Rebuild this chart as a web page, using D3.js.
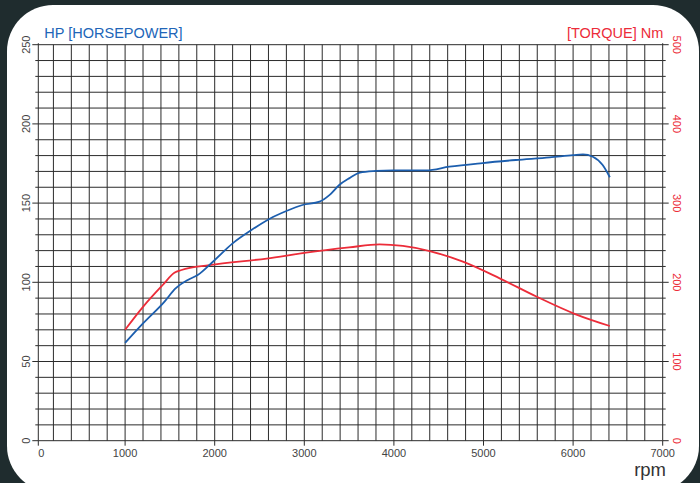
<!DOCTYPE html>
<html><head><meta charset="utf-8">
<script src="https://cdn.jsdelivr.net/npm/d3@7"></script>
<style>html,body{margin:0;padding:0;background:#1f2c2e;}svg{display:block;font-family:"Liberation Sans",Arial,sans-serif;}</style>
</head><body>
<svg id="c" width="700" height="483"></svg>
<script>
// ---- data ----
const hpRpm = [1000,1200,1440,1560,1700,1810,1980,2200,2410,2610,2800,2980,3170,3280,3390,3500,3620,3800,3990,4360,4620,4990,5360,5740,6000,6110,6220,6330,6410];
const hpVals = [61.7,74,87.8,96,101.5,104.6,113,124.6,133,140,145,148.8,150.9,155,161.4,165.6,169.2,170.3,170.7,170.7,173,175.3,177.2,178.9,180.3,180.8,179.3,174,166.3];
const tqRpm = [1000,1200,1420,1550,1630,1940,2580,3020,3500,3840,4100,4400,4770,5180,5590,6030,6410];
const tqVals = [140,169,196.6,212,215.5,221.8,230,237.4,244,248,246,239.5,226,205,182,159.6,144.8];
const xTicks = [0,1000,2000,3000,4000,5000,6000,7000];
const hpTicks = [0,50,100,150,200,250];
const tqTicks = [0,100,200,300,400,500];
const titles = {hp:"HP [HORSEPOWER]", tq:"[TORQUE] Nm", x:"rpm"};

// ---- layout ----
const svg = d3.select("#c");
const BLUE = "#1c5eae", RED = "#ec2c39", GRID = "#2b2b2b", TXT = "#444";
const x = d3.scaleLinear().domain([0,7000]).range([35.5,662.7]);
const yH = d3.scaleLinear().domain([0,250]).range([440.7,44.7]);
const yT = d3.scaleLinear().domain([0,500]).range([440.7,44.7]);
const axisX = 38.3;

// panel
svg.append("rect").attr("x",7).attr("y",5).attr("width",692).attr("height",487).attr("rx",46).attr("fill","#fff");

// grid
const g = svg.append("g").attr("stroke",GRID).attr("stroke-width",1).attr("fill","none");
d3.range(10,251,10).forEach(v=>{
  g.append("line").attr("x1",axisX).attr("x2",x(7000)).attr("y1",yH(v)).attr("y2",yH(v));
});
d3.range(200,7000,200).forEach(v=>{
  g.append("line").attr("x1",x(v)).attr("x2",x(v)).attr("y1",yH(0)).attr("y2",yH(250));
});
// axes lines
g.append("line").attr("x1",axisX).attr("x2",axisX).attr("y1",yH(0)).attr("y2",yH(250)-1.5);
g.append("line").attr("x1",x(7000)).attr("x2",x(7000)).attr("y1",yH(0)).attr("y2",yH(250)-1.5);
g.append("line").attr("x1",axisX).attr("x2",x(7000)).attr("y1",yH(0)).attr("y2",yH(0));
// left ticks
d3.range(0,251,10).forEach(v=>{
  const L = v%50===0 ? 6 : 3;
  g.append("line").attr("x1",axisX-L).attr("x2",axisX).attr("y1",yH(v)).attr("y2",yH(v));
});
// right ticks
d3.range(0,501,20).forEach(v=>{
  const L = v%100===0 ? 6 : 3;
  g.append("line").attr("x1",x(7000)).attr("x2",x(7000)+L).attr("y1",yT(v)).attr("y2",yT(v));
});
// bottom ticks
xTicks.forEach(v=>{
  const xx = v===0 ? axisX : x(v);
  g.append("line").attr("x1",xx).attr("x2",xx).attr("y1",yH(0)).attr("y2",yH(0)+5);
});

// tick labels
xTicks.forEach(v=>{
  svg.append("text").attr("x", v===0 ? axisX : x(v)).attr("y",457)
    .attr("text-anchor", v===0 ? "start" : "middle").attr("font-size",11).attr("fill",TXT).text(v);
});
hpTicks.forEach(v=>{
  svg.append("text").attr("transform",`translate(30,${yH(v)}) rotate(-90)`)
    .attr("text-anchor","middle").attr("font-size",11).attr("fill",TXT).text(v);
});
tqTicks.forEach(v=>{
  svg.append("text").attr("transform",`translate(673,${yT(v)}) rotate(90)`)
    .attr("text-anchor","middle").attr("font-size",11).attr("fill",RED).text(v);
});

// curves
const lineH = d3.line().x((d,i)=>x(hpRpm[i])).y(d=>yH(d)).curve(d3.curveMonotoneX);
const lineT = d3.line().x((d,i)=>x(tqRpm[i])).y(d=>yT(d)).curve(d3.curveMonotoneX);
svg.append("path").attr("d",lineT(tqVals)).attr("fill","none").attr("stroke",RED).attr("stroke-width",1.8);
svg.append("path").attr("d",lineH(hpVals)).attr("fill","none").attr("stroke",BLUE).attr("stroke-width",1.8);

// titles
svg.append("text").attr("x",44.3).attr("y",37.7).attr("font-size",14.5).attr("fill","#2165b8").text(titles.hp);
svg.append("text").attr("x",663.3).attr("y",37.7).attr("text-anchor","end").attr("font-size",14.5).attr("fill",RED).text(titles.tq);
svg.append("text").attr("x",666).attr("y",475.6).attr("text-anchor","end").attr("font-size",18.5).attr("fill","#333").text(titles.x);
</script>
</body></html>
